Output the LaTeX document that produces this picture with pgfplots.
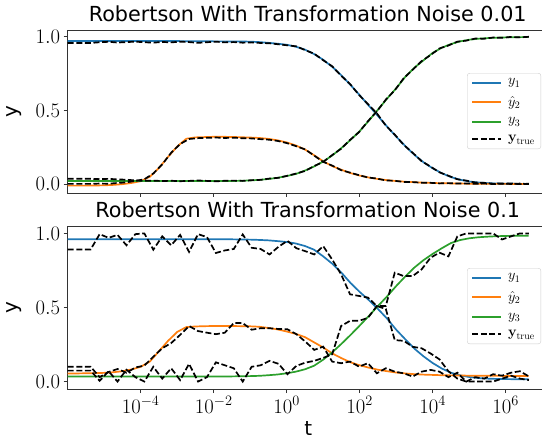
\documentclass[border=0pt]{standalone}
\usepackage[no-math]{fontspec}
\setmainfont{DejaVu Sans}
\usepackage{pgfplots}
\usepackage{pgfplotstable}
\pgfplotsset{compat=1.18}

\definecolor{tabblue}{HTML}{1F77B4}
\definecolor{taborange}{HTML}{FF7F0E}
\definecolor{tabgreen}{HTML}{2CA02C}

\tikzset{
  fitline/.style={line width=1.7bp},
  trueline/.style={black, line width=1.7bp, dash pattern=on 6bp off 2.6bp},
}

% u = log10(t); a = y1, b = y2 (transformed), c = y3
\pgfplotstableread{
u a b c
-6.00 0.970 -0.010 0.021
-5.75 0.970 -0.010 0.021
-5.50 0.970 -0.010 0.021
-5.25 0.970 -0.009 0.021
-5.00 0.970 -0.008 0.021
-4.75 0.970 -0.005 0.021
-4.50 0.970 0.000 0.021
-4.25 0.970 0.008 0.021
-4.00 0.970 0.020 0.021
-3.75 0.970 0.050 0.021
-3.50 0.970 0.110 0.021
-3.25 0.970 0.185 0.021
-3.00 0.970 0.255 0.021
-2.75 0.969 0.308 0.021
-2.50 0.969 0.317 0.021
-2.25 0.969 0.319 0.021
-2.00 0.968 0.321 0.021
-1.75 0.968 0.321 0.021
-1.50 0.967 0.320 0.021
-1.25 0.967 0.318 0.023
-1.00 0.966 0.316 0.025
-0.75 0.963 0.313 0.029
-0.50 0.958 0.307 0.035
-0.25 0.952 0.297 0.043
0.00 0.945 0.283 0.055
0.25 0.932 0.262 0.069
0.50 0.912 0.235 0.092
0.75 0.882 0.196 0.120
1.00 0.843 0.155 0.153
1.25 0.795 0.122 0.195
1.50 0.737 0.097 0.245
1.75 0.672 0.075 0.300
2.00 0.603 0.058 0.360
2.25 0.532 0.045 0.430
2.50 0.462 0.035 0.505
2.75 0.390 0.027 0.580
3.00 0.322 0.021 0.650
3.25 0.258 0.016 0.728
3.50 0.198 0.013 0.790
3.75 0.148 0.010 0.840
4.00 0.107 0.008 0.890
4.25 0.074 0.006 0.925
4.50 0.048 0.005 0.950
4.75 0.030 0.004 0.968
5.00 0.018 0.003 0.979
5.25 0.011 0.003 0.986
5.50 0.007 0.002 0.990
5.75 0.004 0.002 0.993
6.00 0.003 0.002 0.995
6.25 0.002 0.001 0.996
6.50 0.002 0.001 0.997
6.63 0.002 0.001 0.997
}\topfit

\pgfplotstableread{
u a b c
-6.000 0.957 0.002 0.036
-5.370 0.957 0.002 0.036
-5.125 0.962 0.004 0.034
-4.880 0.965 0.003 0.036
-4.635 0.960 0.008 0.032
-4.390 0.963 0.012 0.030
-4.145 0.966 0.022 0.025
-3.900 0.962 0.033 0.022
-3.655 0.959 0.072 0.024
-3.410 0.964 0.134 0.021
-3.165 0.961 0.213 0.023
-2.920 0.966 0.272 0.020
-2.675 0.963 0.306 0.022
-2.430 0.958 0.312 0.025
-2.185 0.962 0.314 0.022
-1.940 0.966 0.316 0.019
-1.695 0.961 0.313 0.023
-1.450 0.963 0.315 0.024
-1.205 0.959 0.311 0.022
-0.960 0.961 0.310 0.027
-0.715 0.957 0.305 0.029
-0.470 0.955 0.301 0.038
-0.225 0.948 0.292 0.043
0.020 0.941 0.277 0.057
0.265 0.934 0.257 0.072
0.510 0.908 0.235 0.090
0.755 0.884 0.193 0.123
1.000 0.840 0.151 0.151
1.245 0.799 0.126 0.197
1.490 0.735 0.095 0.240
1.735 0.679 0.078 0.300
1.980 0.605 0.061 0.352
2.225 0.543 0.045 0.427
2.470 0.480 0.038 0.493
2.715 0.397 0.025 0.573
2.960 0.336 0.023 0.636
3.205 0.266 0.015 0.718
3.450 0.213 0.014 0.775
3.695 0.156 0.010 0.834
3.940 0.119 0.009 0.875
4.185 0.080 0.005 0.920
4.430 0.057 0.007 0.940
4.675 0.033 0.004 0.966
4.920 0.024 0.005 0.973
5.165 0.011 0.002 0.987
5.410 0.009 0.004 0.986
5.655 0.003 0.001 0.994
5.900 0.005 0.003 0.992
6.145 0.001 0.005 0.998
6.390 0.004 0.000 0.995
6.635 0.000 0.003 0.999
}\toptrue

\pgfplotstableread{
u a b c
-6.00 0.960 0.055 0.034
-5.75 0.960 0.055 0.034
-5.50 0.960 0.056 0.034
-5.25 0.960 0.057 0.034
-5.00 0.960 0.059 0.034
-4.75 0.960 0.063 0.034
-4.50 0.960 0.070 0.034
-4.25 0.960 0.082 0.034
-4.00 0.960 0.100 0.034
-3.75 0.960 0.135 0.034
-3.50 0.960 0.205 0.034
-3.25 0.960 0.275 0.034
-3.00 0.960 0.335 0.034
-2.75 0.960 0.368 0.034
-2.50 0.960 0.372 0.034
-2.25 0.960 0.374 0.034
-2.00 0.960 0.375 0.034
-1.75 0.960 0.375 0.035
-1.50 0.960 0.375 0.035
-1.25 0.959 0.374 0.036
-1.00 0.958 0.373 0.037
-0.75 0.956 0.370 0.039
-0.50 0.953 0.362 0.043
-0.25 0.948 0.352 0.048
0.00 0.942 0.338 0.056
0.25 0.932 0.322 0.067
0.50 0.915 0.300 0.083
0.75 0.890 0.265 0.107
1.00 0.845 0.230 0.148
1.25 0.795 0.190 0.198
1.50 0.735 0.158 0.255
1.75 0.665 0.130 0.315
2.00 0.605 0.110 0.378
2.25 0.550 0.094 0.443
2.50 0.490 0.080 0.510
2.75 0.425 0.070 0.575
3.00 0.350 0.061 0.645
3.25 0.285 0.055 0.710
3.50 0.222 0.050 0.770
3.75 0.170 0.047 0.820
4.00 0.125 0.045 0.862
4.25 0.088 0.043 0.900
4.50 0.060 0.042 0.935
4.75 0.042 0.041 0.955
5.00 0.031 0.040 0.967
5.25 0.024 0.040 0.974
5.50 0.020 0.039 0.978
5.75 0.018 0.039 0.981
6.00 0.017 0.038 0.983
6.25 0.016 0.038 0.984
6.50 0.016 0.038 0.984
6.63 0.016 0.038 0.984
}\botfit

\pgfplotstableread{
u a b c
-6.000 0.892 0.100 0.074
-5.370 0.892 0.100 0.074
-5.125 0.995 0.030 0.005
-4.880 0.970 0.065 0.070
-4.635 0.990 0.085 0.000
-4.390 0.920 0.060 0.080
-4.145 0.995 0.095 0.030
-3.900 1.000 0.108 0.000
-3.655 0.890 0.168 0.100
-3.410 0.980 0.225 0.020
-3.165 0.920 0.260 0.090
-2.920 0.990 0.315 0.010
-2.675 0.875 0.375 0.120
-2.430 0.995 0.341 0.000
-2.185 0.975 0.330 0.030
-1.940 0.868 0.320 0.130
-1.695 0.885 0.330 0.110
-1.450 0.895 0.395 0.090
-1.205 0.993 0.395 0.000
-0.960 0.903 0.350 0.100
-0.715 0.895 0.360 0.110
-0.470 0.858 0.360 0.140
-0.225 0.910 0.355 0.120
0.020 0.950 0.353 0.050
0.265 0.900 0.320 0.106
0.510 0.880 0.270 0.128
0.755 0.858 0.214 0.140
1.000 0.914 0.236 0.160
1.245 0.824 0.135 0.184
1.490 0.724 0.124 0.375
1.735 0.589 0.135 0.410
1.980 0.578 0.101 0.410
2.225 0.567 0.124 0.430
2.470 0.510 0.056 0.510
2.715 0.490 0.090 0.510
2.960 0.280 0.067 0.735
3.205 0.275 0.056 0.712
3.450 0.235 0.034 0.712
3.695 0.225 0.067 0.757
3.940 0.190 0.079 0.836
4.185 0.150 0.067 0.870
4.430 0.070 0.030 0.845
4.675 0.020 0.060 0.980
4.920 0.000 0.000 1.000
5.165 0.000 0.030 1.000
5.410 0.000 0.020 1.000
5.655 0.000 0.050 1.000
5.900 0.020 0.040 0.959
6.145 0.040 0.060 0.980
6.390 0.020 0.070 1.000
6.635 0.010 0.035 1.000
}\bottrue

\pgfplotsset{
  every axis title shift=0pt,
  every axis/.append style={
    scale only axis, width=480bp, height=163bp,
    xmin=1e-6, xmax=1.4125e7,
    xtick={1e-4,1e-2,1,1e2,1e4,1e6}, xminorticks=false,
    ytick={0,0.5,1},
    yticklabel style={/pgf/number format/fixed, /pgf/number format/fixed zerofill, /pgf/number format/precision=1},
    tick align=outside, tick pos=left, major tick length=4bp,
    axis line style={black!80, line width=0.8bp},
    tick style={black!80, line width=0.8bp},
    tick label style={font=\fontsize{19.5}{22}\selectfont},
    title style={font=\fontsize{20.8}{24}\selectfont, at={(rel axis cs:0.5,1)}, anchor=base, yshift=8.4bp},
    ylabel style={font=\fontsize{20}{24}\selectfont, at={(rel axis cs:-0.112,0.5)}, anchor=center},
    legend style={anchor=north west,
      draw=black!20, rounded corners=2.5bp, fill=white, fill opacity=0.8, text opacity=1,
      font=\fontsize{14.5}{16}\selectfont, inner xsep=4bp, inner ysep=3.5bp, row sep=6bp},
    legend cell align=left,
  },
}

\begin{document}
\begin{tikzpicture}
\begin{axis}[xmode=log, anchor=south west, at={(67.7bp,249bp)}, ymin=-0.06, ymax=1.045,
  title={Robertson With Transformation Noise 0.01}, ylabel={y}, xticklabels={},
  legend style={at={(rel axis cs:0.832,0.736)}},
  legend image code/.code={\draw[#1, line width=2bp] (0bp,0bp) -- (29bp,0bp); \path (33bp,0bp);}]
\addplot[fitline, tabblue] table[x expr={10^\thisrow{u}}, y=a] {\topfit};
\addlegendentry{$y_1$}
\addplot[fitline, taborange] table[x expr={10^\thisrow{u}}, y=b] {\topfit};
\addlegendentry{$\hat{y}_2$}
\addplot[fitline, tabgreen] table[x expr={10^\thisrow{u}}, y=c] {\topfit};
\addlegendentry{$y_3$}
\addplot[trueline] table[x expr={10^\thisrow{u}}, y=a] {\toptrue};
\addlegendentry{$\mathbf{y}_{\mathrm{true}}$}
\addplot[trueline, forget plot] table[x expr={10^\thisrow{u}}, y=b] {\toptrue};
\addplot[trueline, forget plot] table[x expr={10^\thisrow{u}}, y=c] {\toptrue};
\end{axis}

\begin{axis}[xmode=log, anchor=south west, at={(67.7bp,53bp)}, ymin=-0.05, ymax=1.05,
  title={Robertson With Transformation Noise 0.1}, ylabel={y},
  xlabel={t},
  xlabel style={font=\fontsize{20}{24}\selectfont, at={(rel axis cs:0.501,-0.24)}, anchor=center},
  legend style={at={(rel axis cs:0.832,0.742)}},
  legend image code/.code={\draw[#1, line width=2bp] (0bp,0bp) -- (29bp,0bp); \path (33bp,0bp);}]
\addplot[fitline, tabblue] table[x expr={10^\thisrow{u}}, y=a] {\botfit};
\addlegendentry{$y_1$}
\addplot[fitline, taborange] table[x expr={10^\thisrow{u}}, y=b] {\botfit};
\addlegendentry{$\hat{y}_2$}
\addplot[fitline, tabgreen] table[x expr={10^\thisrow{u}}, y=c] {\botfit};
\addlegendentry{$y_3$}
\addplot[trueline] table[x expr={10^\thisrow{u}}, y=a] {\bottrue};
\addlegendentry{$\mathbf{y}_{\mathrm{true}}$}
\addplot[trueline, forget plot] table[x expr={10^\thisrow{u}}, y=b] {\bottrue};
\addplot[trueline, forget plot] table[x expr={10^\thisrow{u}}, y=c] {\bottrue};
\end{axis}

\pgfresetboundingbox
\path[use as bounding box] (0bp,0bp) rectangle (542bp,442bp);
\end{tikzpicture}
\end{document}
